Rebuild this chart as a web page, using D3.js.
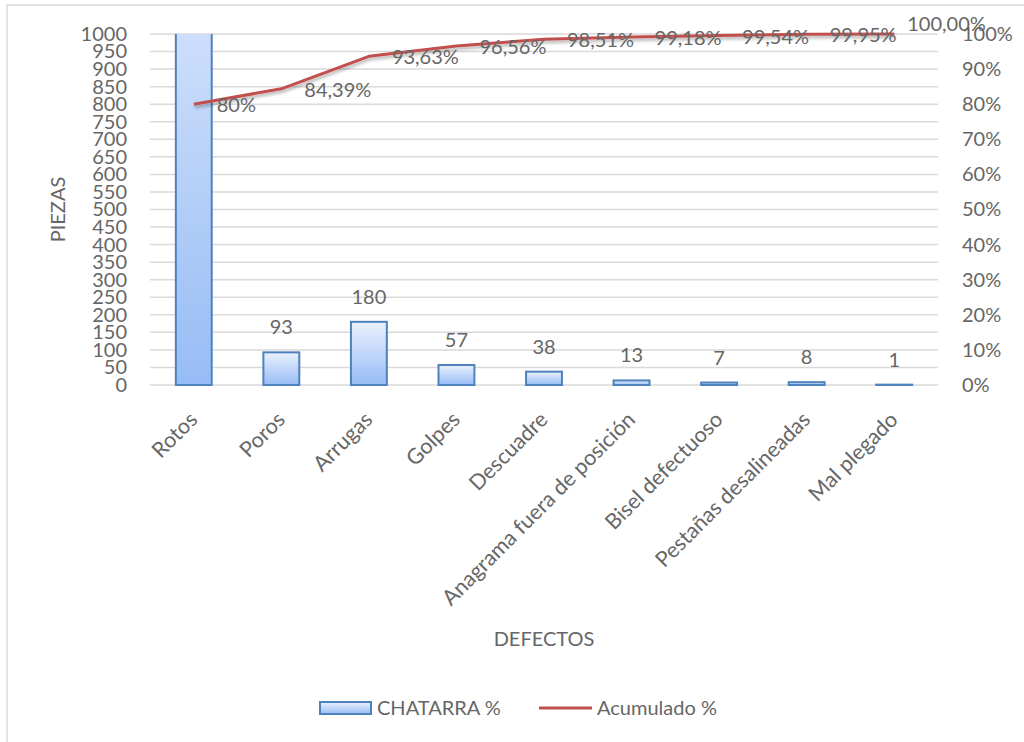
<!DOCTYPE html>
<html>
<head>
<meta charset="utf-8">
<script src="https://cdn.jsdelivr.net/npm/d3@7"></script>
<style>
  html, body { margin: 0; padding: 0; background: #fff; }
  svg { display: block; font-family: Lato, "Open Sans", sans-serif; }
  text { fill: #666; }
</style>
</head>
<body>
<svg id="chart" width="1024" height="742"></svg>
<script>
// Defect categories and counts (pieces)
const categories = ["Rotos", "Poros", "Arrugas", "Golpes", "Descuadre",
  "Anagrama fuera de posición", "Bisel defectuoso", "Pestañas desalineadas", "Mal plegado"];
const piezas = [1550, 93, 180, 57, 38, 13, 7, 8, 1];
// Cumulative percentage and its printed labels
const acumulado = [80, 84.39, 93.63, 96.56, 98.51, 99.18, 99.54, 99.95, 100];
const acumuladoLabels = ["80%", "84,39%", "93,63%", "96,56%", "98,51%", "99,18%", "99,54%", "99,95%", "100,00%"];
// Axis ticks
const leftTicks = [0, 50, 100, 150, 200, 250, 300, 350, 400, 450, 500, 550, 600, 650, 700, 750, 800, 850, 900, 950, 1000];
const rightTicks = [0, 10, 20, 30, 40, 50, 60, 70, 80, 90, 100];
const seriesNames = ["CHATARRA %", "Acumulado %"];

const svg = d3.select("#chart");
const plot = { left: 150, right: 938, top: 34, bottom: 385 };

const x = d3.scaleBand().domain(categories).range([plot.left, plot.right]).paddingInner(0.59).paddingOuter(0.295);
const yL = d3.scaleLinear().domain([0, 1000]).range([plot.bottom, plot.top]);
const yR = d3.scaleLinear().domain([0, 100]).range([plot.bottom, plot.top]);
const cx = c => x(c) + x.bandwidth() / 2;

const defs = svg.append("defs");
const grad = defs.append("linearGradient").attr("id", "barGrad")
  .attr("x1", 0).attr("y1", 0).attr("x2", 0).attr("y2", 1);
grad.append("stop").attr("offset", "0%").attr("stop-color", "#eaf1fd");
grad.append("stop").attr("offset", "100%").attr("stop-color", "#97bcf5");
defs.append("clipPath").attr("id", "plotClip").append("rect")
  .attr("x", plot.left - 5).attr("y", plot.top).attr("width", plot.right - plot.left + 10).attr("height", plot.bottom - plot.top + 5);
const shadow = defs.append("filter").attr("id", "lineShadow").attr("x", "-5%").attr("y", "-20%").attr("width", "110%").attr("height", "150%");
shadow.append("feDropShadow").attr("dx", 1).attr("dy", 2.5).attr("stdDeviation", 1.5)
  .attr("flood-color", "#000").attr("flood-opacity", 0.3);

// Chart frame
svg.append("rect").attr("x", 7).attr("y", 5).attr("width", 1100).attr("height", 800)
  .attr("fill", "none").attr("stroke", "#d9d9d9").attr("stroke-width", 1.5);

// Gridlines
svg.append("g").selectAll("line").data(leftTicks).join("line")
  .attr("x1", plot.left).attr("x2", plot.right)
  .attr("y1", d => yL(d)).attr("y2", d => yL(d))
  .attr("stroke", "#d9d9d9").attr("stroke-width", 1.5);

// Left axis
const leftAxis = svg.append("g").attr("transform", `translate(${plot.left - 23},0)`)
  .call(d3.axisLeft(yL).tickValues(leftTicks).tickSize(0).tickPadding(0).tickFormat(d => String(d)));
leftAxis.select(".domain").remove();
leftAxis.selectAll("text").attr("font-size", 20).attr("font-family", "Lato").attr("fill", "#666");

// Right axis
const rightAxis = svg.append("g").attr("transform", `translate(${plot.right + 24},0)`)
  .call(d3.axisRight(yR).tickValues(rightTicks).tickSize(0).tickPadding(0).tickFormat(d => d + "%"));
rightAxis.select(".domain").remove();
rightAxis.selectAll("text").attr("font-size", 20).attr("font-family", "Lato").attr("fill", "#666");

// Bars
svg.append("g").attr("clip-path", "url(#plotClip)")
  .selectAll("rect").data(categories).join("rect")
  .attr("x", d => x(d)).attr("width", x.bandwidth())
  .attr("y", (d, i) => yL(piezas[i])).attr("height", (d, i) => yL(0) - yL(piezas[i]))
  .attr("fill", "url(#barGrad)").attr("stroke", "#4f81bd").attr("stroke-width", 2);

// Bar value labels (only those inside the axis range)
svg.append("g").selectAll("text").data(categories.filter((d, i) => piezas[i] <= 1000)).join("text")
  .attr("x", d => cx(d))
  .attr("y", d => yL(piezas[categories.indexOf(d)]) - 18)
  .attr("text-anchor", "middle").attr("font-size", 20).attr("fill", "#666")
  .text(d => piezas[categories.indexOf(d)]);

// Cumulative line
const line = d3.line().x((d, i) => cx(categories[i])).y(d => yR(d));
svg.append("path").datum(acumulado)
  .attr("d", line).attr("fill", "none")
  .attr("stroke", "#c0504d").attr("stroke-width", 3).attr("stroke-linejoin", "round")
  .attr("filter", "url(#lineShadow)");

// Cumulative labels
const last = acumulado.length - 1;
svg.append("g").selectAll("text").data(acumulado).join("text")
  .attr("x", (d, i) => cx(categories[i]) + (i === last ? 13 : 23))
  .attr("y", (d, i) => yR(d) + (i === last ? -3 : 8))
  .attr("font-size", 20).attr("fill", "#666")
  .text((d, i) => acumuladoLabels[i]);

// Category labels
svg.append("g").selectAll("text").data(categories).join("text")
  .attr("transform", d => `translate(${cx(d) + 5},421) rotate(-45)`)
  .attr("text-anchor", "end").attr("font-size", 21.5).attr("fill", "#666")
  .text(d => d);

// Axis titles
svg.append("text").attr("transform", `translate(65,${(plot.top + plot.bottom) / 2}) rotate(-90)`)
  .attr("text-anchor", "middle").attr("font-size", 20).attr("fill", "#666").text("PIEZAS");
svg.append("text").attr("x", (plot.left + plot.right) / 2).attr("y", 646)
  .attr("text-anchor", "middle").attr("font-size", 20).attr("fill", "#666").text("DEFECTOS");

// Legend
const lg = svg.append("g");
lg.append("rect").attr("x", 320).attr("y", 702).attr("width", 51).attr("height", 12)
  .attr("fill", "url(#barGrad)").attr("stroke", "#4f81bd").attr("stroke-width", 2);
lg.append("text").attr("x", 377).attr("y", 715).attr("font-size", 20).attr("fill", "#666").text(seriesNames[0]);
lg.append("line").attr("x1", 539).attr("x2", 592).attr("y1", 708).attr("y2", 708)
  .attr("stroke", "#c0504d").attr("stroke-width", 3);
lg.append("text").attr("x", 597).attr("y", 715).attr("font-size", 20).attr("fill", "#666").text(seriesNames[1]);
</script>
</body>
</html>
